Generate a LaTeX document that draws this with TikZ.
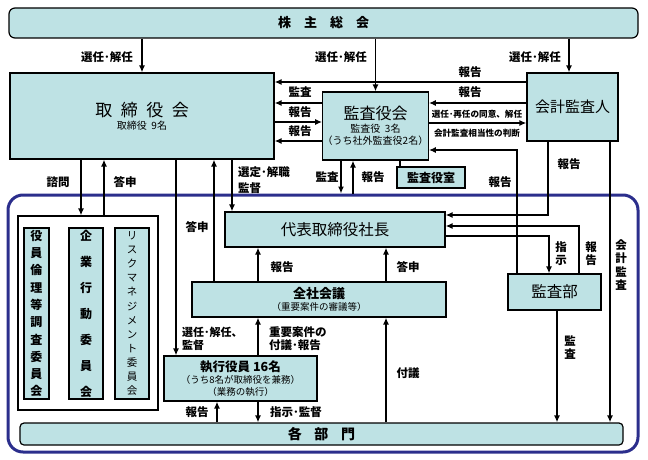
\documentclass[tikz,border=0pt]{standalone}
\usepackage{fontspec}
\setmainfont{Noto Sans CJK JP}
\usetikzlibrary{arrows.meta,calc}
\definecolor{boxfill}{RGB}{190,226,228}
\definecolor{frameblue}{RGB}{43,46,140}
\tikzset{
  box/.style={draw=black, line width=1.2pt, fill=boxfill, inner sep=0pt},
  arr/.style={line width=1.8pt, -{Latex[length=7pt,width=6pt]}},
  lnk/.style={line width=1.8pt},
  lbl/.style={font=\bfseries\fontsize{11.5}{13}\selectfont, inner sep=0pt},
  tate/.style={lbl, align=center, font=\bfseries\fontsize{11.5}{13}\selectfont},
}

\begin{document}
\begin{tikzpicture}[x=1pt,y=-1pt]
    \useasboundingbox (0,0) rectangle (648,460);
    % blue frame of the executive side
    \node [draw=frameblue, line width=3pt, rounded corners=15, minimum width=630, minimum height=257, inner sep=0pt] (soshiki) at (323,323.5) {};

    \node [box, rounded corners=6, minimum width=629, minimum height=30, font=\bfseries\fontsize{13}{15}\selectfont] (soukai) at (323.5,23) {株\quad 主\quad 総\quad 会};
    \node [box, minimum width=264, minimum height=86, align=center] (tori) at (142,116) {{\fontsize{17}{20}\selectfont 取\hspace{.5em}締\hspace{.5em}役\hspace{.5em}会}\\[1pt]{\fontsize{10}{12}\selectfont 取締役\ \ 9名}};
    \node [box, minimum width=103, minimum height=68, align=center] (kansa) at (375.5,126) {{\fontsize{16}{18}\selectfont 監査役会}\\[1pt]{\fontsize{10}{14}\selectfont 監査役\ \ 3名}\\{\fontsize{10}{14}\selectfont （うち社外監査役2名）}};
    \node [box, minimum width=91, minimum height=68, font=\fontsize{15}{17}\selectfont] (kaikei) at (572.5,107) {会計監査人};
    \node [box, minimum width=68, minimum height=21, font=\bfseries\fontsize{12}{14}\selectfont] (shitsu) at (431,177.5) {監査役室};

    \node [draw=black, line width=1.2pt, fill=white, minimum width=140, minimum height=194, inner sep=0pt] (iinkai) at (88,313) {};
    \node [box, minimum width=25, minimum height=171, align=center, font=\bfseries\fontsize{12}{17.3}\selectfont] (c1) at (36.5,313.5) {役\\員\\倫\\理\\等\\調\\査\\委\\員\\会};
    \node [box, minimum width=34, minimum height=171, align=center, font=\bfseries\fontsize{12}{26}\selectfont] (c2) at (86,313.5) {企\\業\\行\\動\\委\\員\\会};
    \node [box, minimum width=34, minimum height=171, align=center, font=\fontsize{10.5}{14.1}\selectfont] (c3) at (132,313.5) {リ\\ス\\ク\\マ\\ネ\\ジ\\メ\\ン\\ト\\委\\員\\会};

    \node [box, minimum width=220, minimum height=35, font=\fontsize{15.5}{18}\selectfont] (daihyo) at (335,229.5) {代表取締役社長};
    \node [box, minimum width=254, minimum height=35, align=center] (zensha) at (319,299.5) {{\bfseries\fontsize{13}{15}\selectfont 全社会議}\\{\fontsize{9.5}{12}\selectfont （重要案件の審議等）}};
    \node [box, minimum width=153, minimum height=45, align=center] (shikko) at (240.5,378.5) {{\bfseries\fontsize{12.5}{14}\selectfont 執行役員 16名}\\{\fontsize{9.5}{11.5}\selectfont （うち8名が取締役を兼務）}\\{\fontsize{9.5}{11.5}\selectfont （業務の執行）}};
    \node [box, minimum width=93, minimum height=36, font=\fontsize{15.5}{18}\selectfont] (kansabu) at (554.5,292) {監査部};
    \node [box, rounded corners=4, minimum width=603, minimum height=22, font=\bfseries\fontsize{14}{16}\selectfont] (kakubu) at (321.5,434) {各\hspace{.9em}部\hspace{.9em}門};

    % shareholders
    \draw[arr] (soukai.south -| tori.north) -- (tori.north);
    \draw[arr] (soukai.south -| kansa.north) -- (kansa.north);
    \draw[arr] (soukai.south -| 569,0) -- (kaikei.north -| 569,0);
    \node [lbl] (l1) at (107,57) {選任･解任};
    \node [lbl] (l2) at (341,57) {選任･解任};
    \node [lbl] (l3) at (535,57) {選任･解任};

    % board, auditors, accounting auditor
    \draw[arr] (kaikei.west |- 0,82) -- (tori.east |- 0,82);
    \draw[arr] (kansa.west |- 0,103) -- (tori.east |- 0,103);
    \draw[arr] (tori.east |- 0,122) -- (kansa.west |- 0,122);
    \draw[arr] (kansa.west |- 0,141) -- (tori.east |- 0,141);
    \draw[arr] (kaikei.west |- 0,103) -- (kansa.east |- 0,103);
    \draw[arr] (kansa.east |- 0,123) -- (kaikei.west |- 0,123);
    \draw[arr] (kansabu.north -| 517,0) |- (kansa.east |- 0,150);
    \draw[lnk] (kansa.south -| 400,0) -- (shitsu.north -| 400,0);
    \node [lbl] (l4) at (470,72) {報告};
    \node [lbl] (l5) at (300,92) {監査};
    \node [lbl] (l6) at (300,112) {報告};
    \node [lbl] (l7) at (300,131) {報告};
    \node [lbl] (l8) at (470,92) {報告};
    \node [lbl, font=\bfseries\fontsize{8.6}{10}\selectfont] (l9) at (477,114) {選任･再任の同意、解任};
    \node [lbl, font=\bfseries\fontsize{8.6}{10}\selectfont] (l10) at (477,133) {会計監査相当性の判断};

    % down from the board
    \draw[arr] (tori.south -| 81,0) -- (iinkai.north -| 81,0);
    \draw[arr] (iinkai.north -| 104,0) -- (tori.south -| 104,0);
    \draw[arr] (tori.south -| 176,0) -- (shikko.north -| 176,0);
    \draw[arr] (zensha.north -| 214,0) -- (tori.south -| 214,0);
    \draw[arr] (tori.south -| 232,0) -- (daihyo.north -| 232,0);
    \draw[arr] (kansa.south -| 341,0) -- (soshiki.north -| 341,0);
    \draw[arr] (soshiki.north -| 353,0) -- (kansa.south -| 353,0);
    \node [lbl] (l11) at (58,182) {諮問};
    \node [lbl] (l12) at (125,182) {答申};
    \node [lbl, align=left, anchor=west, font=\bfseries\fontsize{11.5}{16}\selectfont] (l13) at (238,180) {選定･解職\\監督};
    \node [lbl] (l14) at (327,177) {監査};
    \node [lbl] (l15) at (373,177) {報告};
    \node [lbl] (l16) at (500,182) {報告};
    \node [lbl] (l17) at (569,164) {報告};

    % right side
    \draw[arr] (kaikei.south -| 548,0) |- (daihyo.east |- 0,215);
    \draw[arr] (kansabu.north -| 579,0) |- (daihyo.east |- 0,226);
    \draw[arr] (daihyo.east |- 0,236) -| (kansabu.north -| 549,0);
    \draw[arr] (kaikei.south -| 610,0) -- (kakubu.north -| 610,0);
    \draw[arr] (kansabu.south -| 557,0) -- (kakubu.north -| 557,0);
    \node [tate] (l18) at (561,254) {指\\示};
    \node [tate] (l19) at (591,254) {報\\告};
    \node [tate, font=\bfseries\fontsize{11.5}{13.5}\selectfont] (l20) at (621,265) {会\\計\\監\\査};
    \node [tate] (l21) at (570,348) {監\\査};

    % executive side
    \draw[arr] (zensha.north -| 258,0) -- (daihyo.south -| 258,0);
    \draw[arr] (zensha.north -| 386,0) -- (daihyo.south -| 386,0);
    \draw[arr] (shikko.north -| 258,0) -- (zensha.south -| 258,0);
    \draw[arr] (kakubu.north -| 217,0) -- (shikko.south -| 217,0);
    \draw[arr] (shikko.south -| 258,0) -- (kakubu.north -| 258,0);
    \draw[arr] (kakubu.north -| 386,0) -- (zensha.south -| 386,0);
    \node [lbl] (l22) at (197,227) {答申};
    \node [lbl] (l23) at (282,267) {報告};
    \node [lbl] (l24) at (408,267) {答申};
    \node [lbl, align=left, anchor=west, font=\bfseries\fontsize{11}{13}\selectfont] (l25) at (182,338.5) {選任･解任、\\監督};
    \node [lbl, align=left, anchor=west, font=\bfseries\fontsize{11.5}{13}\selectfont] (l26) at (269,338.5) {重要案件の\\付議･報告};
    \node [lbl] (l27) at (408,373) {付議};
    \node [lbl] (l28) at (197,412) {報告};
    \node [lbl, anchor=west] (l29) at (270,412) {指示･監督};
\end{tikzpicture}
\end{document}
